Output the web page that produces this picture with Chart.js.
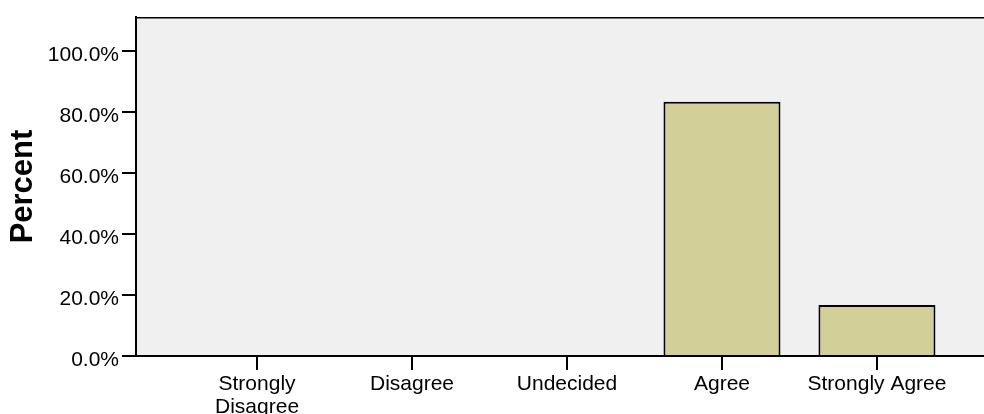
<!DOCTYPE html>
<html>
<head>
<meta charset="utf-8">
<script src="https://cdn.jsdelivr.net/npm/chart.js@4/dist/chart.umd.min.js"></script>
<style>
  html, body { margin: 0; padding: 0; background: #fff; overflow: hidden; }
  #wrap { width: 984px; height: 414px; overflow: hidden; }
</style>
</head>
<body>
<div id="wrap"><canvas id="chart" width="1010" height="414"></canvas></div>
<script>
// Réponses (pourcentage) par modalité de l'échelle de Likert
const CATEGORIES = ['Strongly Disagree', 'Disagree', 'Undecided', 'Agree', 'Strongly Agree'];
const TICK_LABELS = [['Strongly', 'Disagree'], 'Disagree', 'Undecided', 'Agree', 'Strongly Agree'];
const PERCENTS = [0, 0, 0, 83.3, 16.7];
const Y_TICKS = [0, 20, 40, 60, 80, 100];

const FONT = '"Liberation Sans", Arial, sans-serif';

// fond gris + trait du haut de la zone de tracé
const plotFrame = {
    id: 'plotFrame',
    beforeDraw(chart) {
        const { ctx, chartArea: a } = chart;
        ctx.save();
        ctx.fillStyle = '#f0f0f0';
        ctx.fillRect(a.left, a.top, a.right - a.left, a.bottom - a.top);
        ctx.strokeStyle = '#000';
        ctx.lineWidth = 1.5;
        ctx.beginPath();
        ctx.moveTo(a.left, a.top + 0.75);
        ctx.lineTo(a.right, a.top + 0.75);
        ctx.stroke();
        ctx.restore();
    },
};

new Chart(document.getElementById('chart'), {
    type: 'bar',
    data: {
        datasets: [{
            data: CATEGORIES.map((c, i) => ({ x: i, y: PERCENTS[i] })),
            backgroundColor: '#d3cf98',
            borderColor: '#000',
            borderWidth: 2,
            categoryPercentage: 1,
            barPercentage: 0.755,
        }],
    },
    plugins: [plotFrame],
    options: {
        responsive: false,
        animation: false,
        layout: { padding: { top: 17, right: 12, left: 0, bottom: 0 } },
        plugins: { legend: { display: false }, tooltip: { enabled: false } },
        scales: {
            x: {
                type: 'linear',
                offset: false,
                min: -0.781,
                max: 4.781,
                afterBuildTicks(scale) {
                    scale.ticks = CATEGORIES.map((c, i) => ({ value: i }));
                },
                afterFit(scale) { scale.height = 58; },
                ticks: {
                    callback: (v) => TICK_LABELS[v],
                    autoSkip: false,
                    maxRotation: 0,
                    color: '#000',
                    padding: 2,
                    font: { family: FONT, size: 21, lineHeight: 1.12 },
                },
                grid: { offset: false, drawOnChartArea: false, drawTicks: true, tickLength: 14, color: '#000', lineWidth: 2 },
                border: { color: '#000', width: 2 },
            },
            y: {
                min: 0,
                max: 111.1,
                afterBuildTicks(scale) {
                    scale.ticks = Y_TICKS.map((v) => ({ value: v }));
                },
                afterFit(scale) { scale.width = 136; },
                ticks: {
                    callback: (v) => v.toFixed(1) + '%',
                    color: '#000',
                    padding: 3,
                    labelOffset: 4,
                    font: { family: FONT, size: 21 },
                },
                grid: { drawOnChartArea: false, drawTicks: true, tickLength: 14, color: '#000', lineWidth: 2 },
                border: { color: '#000', width: 2 },
                title: {
                    display: true,
                    text: 'Percent',
                    color: '#000',
                    padding: { top: 5, bottom: 0 },
                    font: { family: FONT, size: 31, weight: 'bold' },
                },
            },
        },
    },
});
</script>
</body>
</html>
